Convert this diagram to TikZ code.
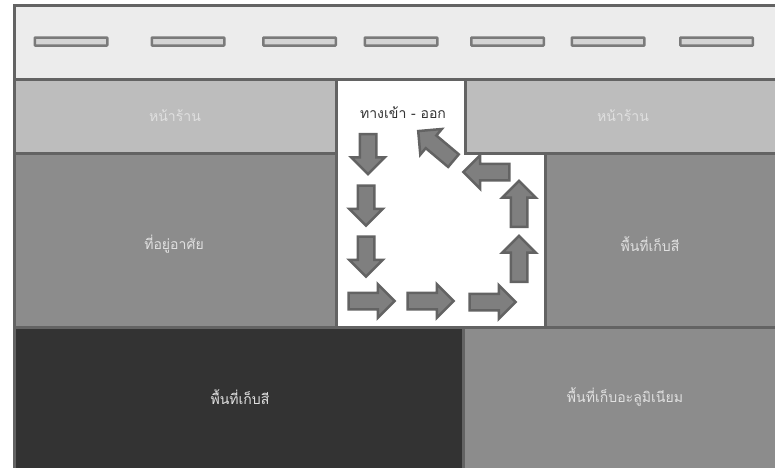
\documentclass[tikz,border=0pt]{standalone}
\usepackage{fontspec}
\newfontfamily\thaifont[Script=Thai]{Loma}
\usetikzlibrary{shapes.arrows}
\definecolor{wallgray}{HTML}{636363}
\definecolor{roadgray}{HTML}{ECECEC}
\definecolor{shopgray}{HTML}{BDBDBD}
\definecolor{zonegray}{HTML}{8C8C8C}
\definecolor{darkgray}{HTML}{333333}
\definecolor{arrowgray}{HTML}{7F7F7F}
\begin{document}
\begin{tikzpicture}
  \tikzstyle{zone}=[rectangle, draw=wallgray, line width=0.06cm, inner sep=0pt]
  \tikzstyle{lanemark}=[rectangle, draw=wallgray!85, fill=roadgray!90!black, line width=0.05cm, rounded corners=0.3pt, minimum width=1.45cm, minimum height=0.16cm, inner sep=0pt]
  \tikzstyle{zonelabel}=[text=white!88!black, font=\thaifont\fontsize{8}{10}\selectfont, inner sep=0pt]
  \tikzstyle{flow}=[single arrow, draw=wallgray, fill=arrowgray, line width=0.05cm, minimum height=0.92cm, minimum width=0.62cm, single arrow head extend=0.17cm, inner sep=0.14cm]
  \useasboundingbox (0,0) rectangle (15.5,9.34);

  % Zone definitions
  \node[zone, fill=roadgray, minimum width=15.31cm, minimum height=1.48cm] (road) at (7.94,8.50) {};
  \node[zone, fill=shopgray, minimum width=6.45cm, minimum height=1.49cm] (shopL) at (3.51,7.015) {};
  \node[zone, fill=shopgray, minimum width=6.30cm, minimum height=1.49cm] (shopR) at (12.45,7.015) {};
  \node[zone, fill=zonegray, minimum width=6.45cm, minimum height=3.47cm] (living) at (3.51,4.535) {};
  \node[zone, fill=zonegray, minimum width=4.70cm, minimum height=3.47cm] (storeR) at (13.25,4.535) {};
  \node[zone, fill=darkgray, minimum width=8.98cm, minimum height=2.89cm] (storeD) at (4.78,1.345) {};
  \node[zone, fill=zonegray, minimum width=6.33cm, minimum height=2.89cm] (alum) at (12.435,1.345) {};

  % Road markings
  \foreach \n/\x in {1/1.42,2/3.76,3/5.99,4/8.02,5/10.15,6/12.16,7/14.33}
    \node[lanemark] (mark\n) at (\x,8.51) {};

  % Labels
  \node[zonelabel] (shopLtext) at (3.50,7.02) {หน้าร้าน};
  \node[zonelabel] (shopRtext) at (12.46,7.02) {หน้าร้าน};
  \node[zonelabel] (livingtext) at (3.48,4.46) {ที่อยู่อาศัย};
  \node[zonelabel] (storeRtext) at (13.00,4.46) {พื้นที่เก็บสี};
  \node[zonelabel] (storeDtext) at (4.80,1.40) {พื้นที่เก็บสี};
  \node[zonelabel] (alumtext) at (12.50,1.40) {พื้นที่เก็บอะลูมิเนียม};
  \node[zonelabel, text=black!80] (doortext) at (8.06,7.08) {ทางเข้า - ออก};

  % Flow arrows
  \node[flow, rotate=-90, minimum height=0.80cm] (down1) at (7.36,6.34) {};
  \node[flow, rotate=-90, minimum height=0.80cm] (down2) at (7.32,5.31) {};
  \node[flow, rotate=-90, minimum height=0.80cm] (down3) at (7.32,4.29) {};
  \node[flow] (right1) at (7.35,3.32) {};
  \node[flow] (right2) at (8.53,3.32) {};
  \node[flow] (right3) at (9.77,3.30) {};
  \node[flow, rotate=90] (up1) at (10.38,4.08) {};
  \node[flow, rotate=90] (up2) at (10.38,5.18) {};
  \node[flow, rotate=180] (left1) at (9.81,5.90) {};
  \node[flow, rotate=140] (exit1) at (8.78,6.37) {};
\end{tikzpicture}
\end{document}
